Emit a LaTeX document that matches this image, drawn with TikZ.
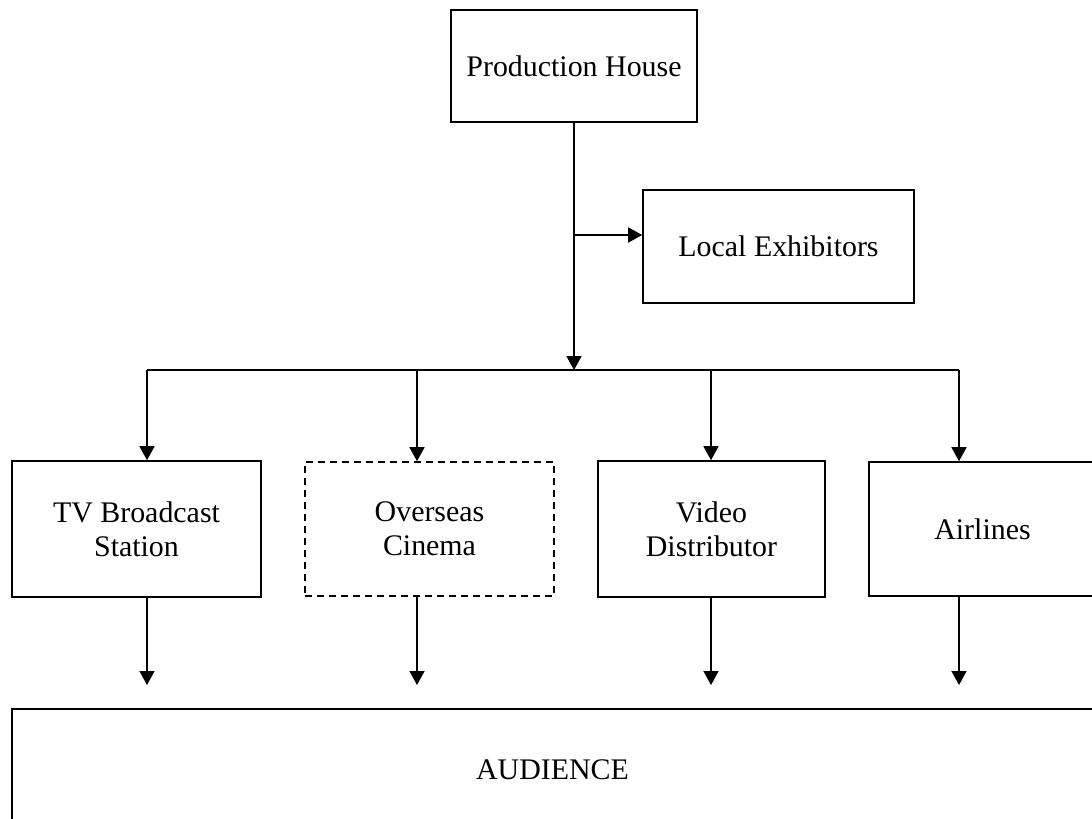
\documentclass[tikz,border=0pt]{standalone}
\usepackage{fontspec}
\setmainfont{Liberation Serif}
\usetikzlibrary{arrows.meta}
\begin{document}
\begin{tikzpicture}[x=1pt,y=1pt,
  box/.style={draw,line width=1.6pt,rectangle,inner sep=0pt,align=center,
    font=\fontsize{29.9}{34}\selectfont},
  conn/.style={line width=1.6pt},
  arr/.style={conn,-{Triangle[length=14pt,width=15pt]}},
  dashbox/.style={box,dash pattern=on 7pt off 5pt}]
\useasboundingbox (0,0) rectangle (1092,-819);
\clip (0,0) rectangle (1092,-819);
\node[box,minimum width=246pt,minimum height=112pt] (ph) at (574,-66) {Production House};
\node[box,minimum width=271pt,minimum height=113pt] (le) at (778.5,-246.5) {Local Exhibitors};
\node[box,minimum width=249pt,minimum height=136pt] (tv) at (136.5,-529) {TV Broadcast\\Station};
\node[dashbox,minimum width=249pt,minimum height=134pt] (oc) at (429.5,-529) {Overseas\\Cinema};
\node[box,minimum width=227pt,minimum height=136pt] (vd) at (711.5,-529) {Video\\Distributor};
\node[box,minimum width=227pt,minimum height=134pt] (al) at (982.5,-529) {Airlines};
\node[box,minimum width=1081pt,minimum height=122pt] (au) at (552.5,-770) {AUDIENCE};
\coordinate (bus) at (574,-370);
\coordinate (branch) at (574,-235);
\coordinate (b1) at (147,-370);
\coordinate (b2) at (417,-370);
\coordinate (b3) at (711,-370);
\coordinate (b4) at (959,-370);
\coordinate (t1) at (147,-685);
\coordinate (t2) at (417,-685);
\coordinate (t3) at (711,-685);
\coordinate (t4) at (959,-685);
\draw[arr] (ph.south) -- (bus);
\draw[arr] (branch) -- (branch -| le.west);
\draw[conn] (b1) -- (b4);
\draw[arr] (b1) -- (b1 |- tv.north);
\draw[arr] (b2) -- (b2 |- oc.north);
\draw[arr] (b3) -- (b3 |- vd.north);
\draw[arr] (b4) -- (b4 |- al.north);
\draw[arr] (tv.south -| t1) -- (t1);
\draw[arr] (oc.south -| t2) -- (t2);
\draw[arr] (vd.south -| t3) -- (t3);
\draw[arr] (al.south -| t4) -- (t4);
\end{tikzpicture}
\end{document}
